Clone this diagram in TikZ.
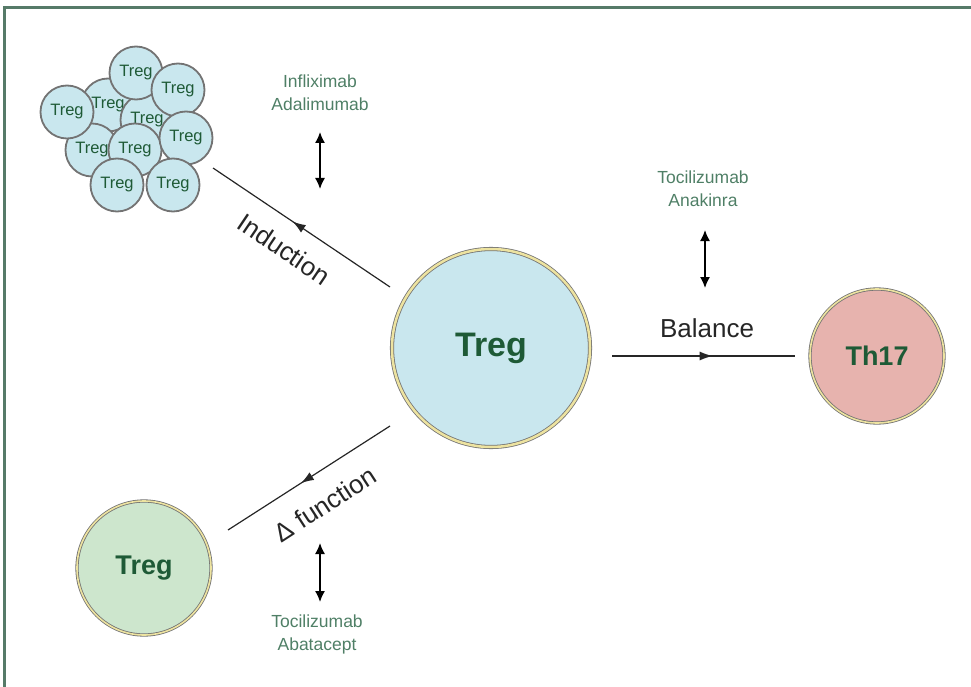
\documentclass[tikz,border=0pt]{standalone}
\usepackage{fontspec}
\setmainfont{Liberation Sans}
\usetikzlibrary{arrows.meta,decorations.markings}
\definecolor{cellblue}{HTML}{C9E7EE}
\definecolor{cellred}{HTML}{E7B3AE}
\definecolor{cellgreen}{HTML}{CDE6CD}
\definecolor{txtgreen}{HTML}{1E5A36}
\definecolor{druggreen}{HTML}{4F7F66}
\definecolor{framegreen}{HTML}{567A68}
\definecolor{ringyellow}{HTML}{EDE3A0}
\tikzset{
  small/.style={circle,minimum size=53pt,inner sep=0pt,fill=cellblue,draw=black!55,line width=1.8pt,
    text=txtgreen,font=\fontsize{16.5}{16.5}\selectfont},
  bigcell/.style={circle,inner sep=0pt,draw=black!55,double=ringyellow,line width=0.8pt,
    text=txtgreen,font=\bfseries\fontsize{34}{34}\selectfont},
  drug/.style={align=center,text=druggreen,font=\fontsize{17.5}{23}\selectfont},
  lab/.style={font=\fontsize{26}{26}\selectfont,text=black!85},
  conn/.style={line width=1.2pt,draw=black!85,postaction={decorate},
    decoration={markings,mark=at position 0.55 with {\arrow{Latex[length=13pt,width=9pt]}}}},
  dbl/.style={line width=1.5pt,{Latex[length=11pt,width=10pt]}-{Latex[length=11pt,width=10pt]}}
}
\begin{document}
\begin{tikzpicture}[x=1pt,y=-1pt]
\useasboundingbox (0,0) rectangle (971,687);
\draw[framegreen,line width=3pt] (4.5,687) -- (4.5,7.5) -- (971,7.5);
% cluster
\node[small] (c1) at (108,105) {Treg};
\node[small] (c2) at (147,120) {Treg};
\node[small] (c3) at (92,150) {Treg};
\node[small] (c4) at (135,150) {Treg};
\node[small] (c5) at (136,73) {Treg};
\node[small] (c6) at (178,90) {Treg};
\node[small] (c7) at (67,112) {Treg};
\node[small] (c8) at (186,138) {Treg};
\node[small] (c9) at (117,185) {Treg};
\node[small] (c10) at (173,185) {Treg};
% main cells
\node[bigcell,fill=cellblue,minimum size=198pt,double distance=2.5pt] (T) at (491,348) {Treg};
\node[bigcell,fill=cellred,minimum size=134pt,double distance=1.6pt,font=\bfseries\fontsize{27}{27}\selectfont] (Th) at (877,356) {Th17};
\node[bigcell,fill=cellgreen,minimum size=134pt,double distance=1.6pt,font=\bfseries\fontsize{27}{27}\selectfont] (G) at (144,568) {Treg};
% connectors
\coordinate (i1) at (390,287);
\coordinate (i2) at (213,168);
\coordinate (b1) at (612,356);
\coordinate (b2) at (795,356);
\coordinate (d1) at (390,426);
\coordinate (d2) at (228,530);
\draw[conn] (i1) -- (i2);
\draw[conn] (b1) -- (b2);
\draw[conn] (d1) -- (d2);
\node[lab,rotate=-34] (il) at (284,249) {Induction};
\node[lab] (bl) at (707,328) {Balance};
\node[lab,rotate=33] (dl) at (325,504) {Δ function};
% drugs
\node[drug] (dr1) at (320,93) {Infliximab\\Adalimumab};
\node[drug] (dr2) at (703,189) {Tocilizumab\\Anakinra};
\node[drug] (dr3) at (317,634) {Tocilizumab\\Abatacept};
\coordinate (a1t) at (320,132); \coordinate (a1b) at (320,189);
\coordinate (a2t) at (705,230); \coordinate (a2b) at (705,288);
\coordinate (a3t) at (320,543); \coordinate (a3b) at (320,602);
\draw[dbl] (a1t) -- (a1b);
\draw[dbl] (a2t) -- (a2b);
\draw[dbl] (a3t) -- (a3b);
\end{tikzpicture}
\end{document}
